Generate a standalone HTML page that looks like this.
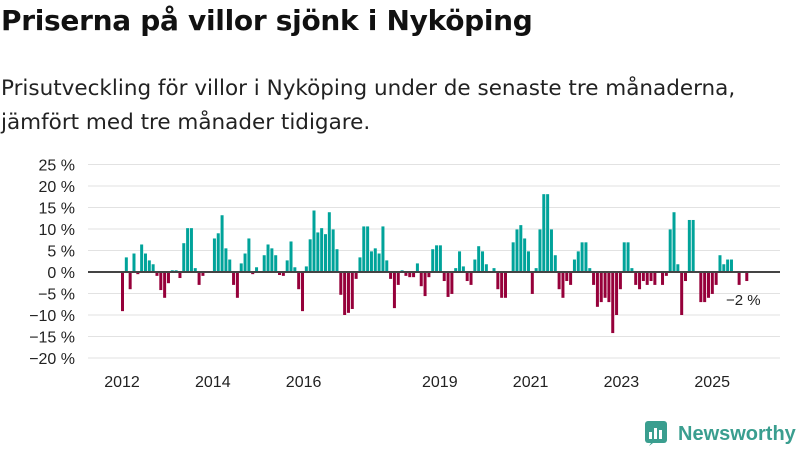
<!DOCTYPE html>
<html><head><meta charset="utf-8">
<style>
html,body{margin:0;padding:0;background:#fff;width:800px;height:450px;overflow:hidden}
body{font-family:"Liberation Sans","DejaVu Sans",sans-serif;color:#111}
#title{position:absolute;left:1px;top:4px;font-family:"DejaVu Sans",sans-serif;font-size:28px;font-weight:bold;margin:0;letter-spacing:-0.3px}
#subtitle{position:absolute;left:1px;top:72px;font-family:"DejaVu Sans",sans-serif;font-size:21.5px;line-height:34px;margin:0;color:#222}
svg{position:absolute;left:0;top:0}
</style></head>
<body>
<h1 id="title">Priserna på villor sjönk i Nyköping</h1>
<p id="subtitle">Prisutveckling för villor i Nyköping under de senaste tre månaderna,<br>jämfört med tre månader tidigare.</p>
<svg id="chart" width="800" height="450">
  <g id="grid"></g>
  <g id="yaxis"></g>
  <g id="bars"></g>
  <g id="xaxis"></g>
  <text x="726" y="305" font-size="15" fill="#222">−2 %</text>
  <g>
    <rect x="645" y="421" width="22" height="22" rx="3" fill="#3a9e8f"/>
    <polygon points="649,446 653,440 657,440" fill="#3a9e8f"/>
    <rect x="649" y="432" width="3" height="7" fill="#fff"/>
    <rect x="654" y="428" width="3" height="11" fill="#fff"/>
    <rect x="659" y="430" width="3" height="9" fill="#fff"/>
    <text x="678" y="440" font-size="20" font-weight="bold" fill="#3a9e8f">Newsworthy</text>
  </g>
</svg>
<script>
const yTicks = [25,20,15,10,5,0,-5,-10,-15,-20];
const yearTicks = [2012,2014,2016,2019,2021,2023,2025];
const startYear = 2012;
const values = [
-9.1,3.4,-4,4.3,-0.5,6.4,4.3,2.7,1.8,-0.9,-4.2,-6,
-2.6,0.4,0.4,-1.4,6.7,10.2,10.2,0.9,-3,-0.9,0,0,
7.8,9,13.2,5.5,2.9,-3,-6,2,4.3,7.8,-0.5,1.1,
0,3.9,6.4,5.5,3.9,-0.7,-0.9,2.7,7.1,1.1,-4,-9.1,
1.3,7.6,14.3,9.2,10.2,8.8,13.9,9.9,5.3,-5.3,-10,-9.5,
-8.6,-1.6,3.4,10.6,10.6,4.8,5.5,4.3,10.6,2.7,-1.6,-8.4,
-3,0.4,-0.9,-1.2,-1.2,2,-3.3,-5.6,-1.2,5.3,6.2,6.2,
-2.1,-5.8,-5.1,0.9,4.8,1.3,-2.1,-3,2.9,6,4.8,1.8,
0,0.9,-4,-6,-6,0,6.9,9.9,10.9,7.8,4.8,-5.1,
0.9,9.9,18.1,18.1,9.9,3.9,-4,-6,-2.1,-3,2.9,4.8,
6.9,6.9,0.9,-3,-8.1,-7,-6,-7,-14.2,-10,-4,6.9,
6.9,0.9,-3,-4,-2.1,-3,-2.1,-3,0,-3,-0.9,9.9,
13.9,1.8,-10,-2.1,12.1,12.1,0,-7,-7,-6,-5.1,-3,
3.9,1.8,2.9,2.9,0,-3,0,-2.1
];
const NS='http://www.w3.org/2000/svg';
const y = v => 272 - v*4.3;
const x = i => 121 + i*3.83;
const xYear = yr => 122 + (yr-startYear)*45.4;
function mk(tag, attrs, parent){const e=document.createElementNS(NS,tag);for(const k in attrs)e.setAttribute(k,attrs[k]);parent.appendChild(e);return e;}
const grid=document.getElementById('grid'), ya=document.getElementById('yaxis'), bars=document.getElementById('bars'), xa=document.getElementById('xaxis');
yTicks.forEach(t=>{
  const l=mk('line',{x1:88,x2:780,y1:y(t),y2:y(t),stroke:'#e2e2e2','stroke-width':1},grid);
  
  
  const tx=mk('text',{x:75,y:y(t)+6,'text-anchor':'end','font-size':16,fill:'#222'},ya);
  tx.textContent=(t<0?'−'+Math.abs(t):t)+' %';
  
  
});
values.forEach((v,i)=>{
  if(v===0)return;
  const r=mk('rect',{x:x(i),width:3,y:Math.min(y(v),y(0)),height:Math.abs(y(v)-y(0)),fill:v>0?'#00a39a':'#96003a'},bars);
  
  
});
const zl=mk('line',{x1:88,x2:780,y1:y(0),y2:y(0),stroke:'#444','stroke-width':2},xa);


yearTicks.forEach(yr=>{
  const tx=mk('text',{x:xYear(yr),y:387,'text-anchor':'middle','font-size':16,fill:'#222'},xa);
  tx.textContent=yr;
  
  
});
</script>
</body></html>
